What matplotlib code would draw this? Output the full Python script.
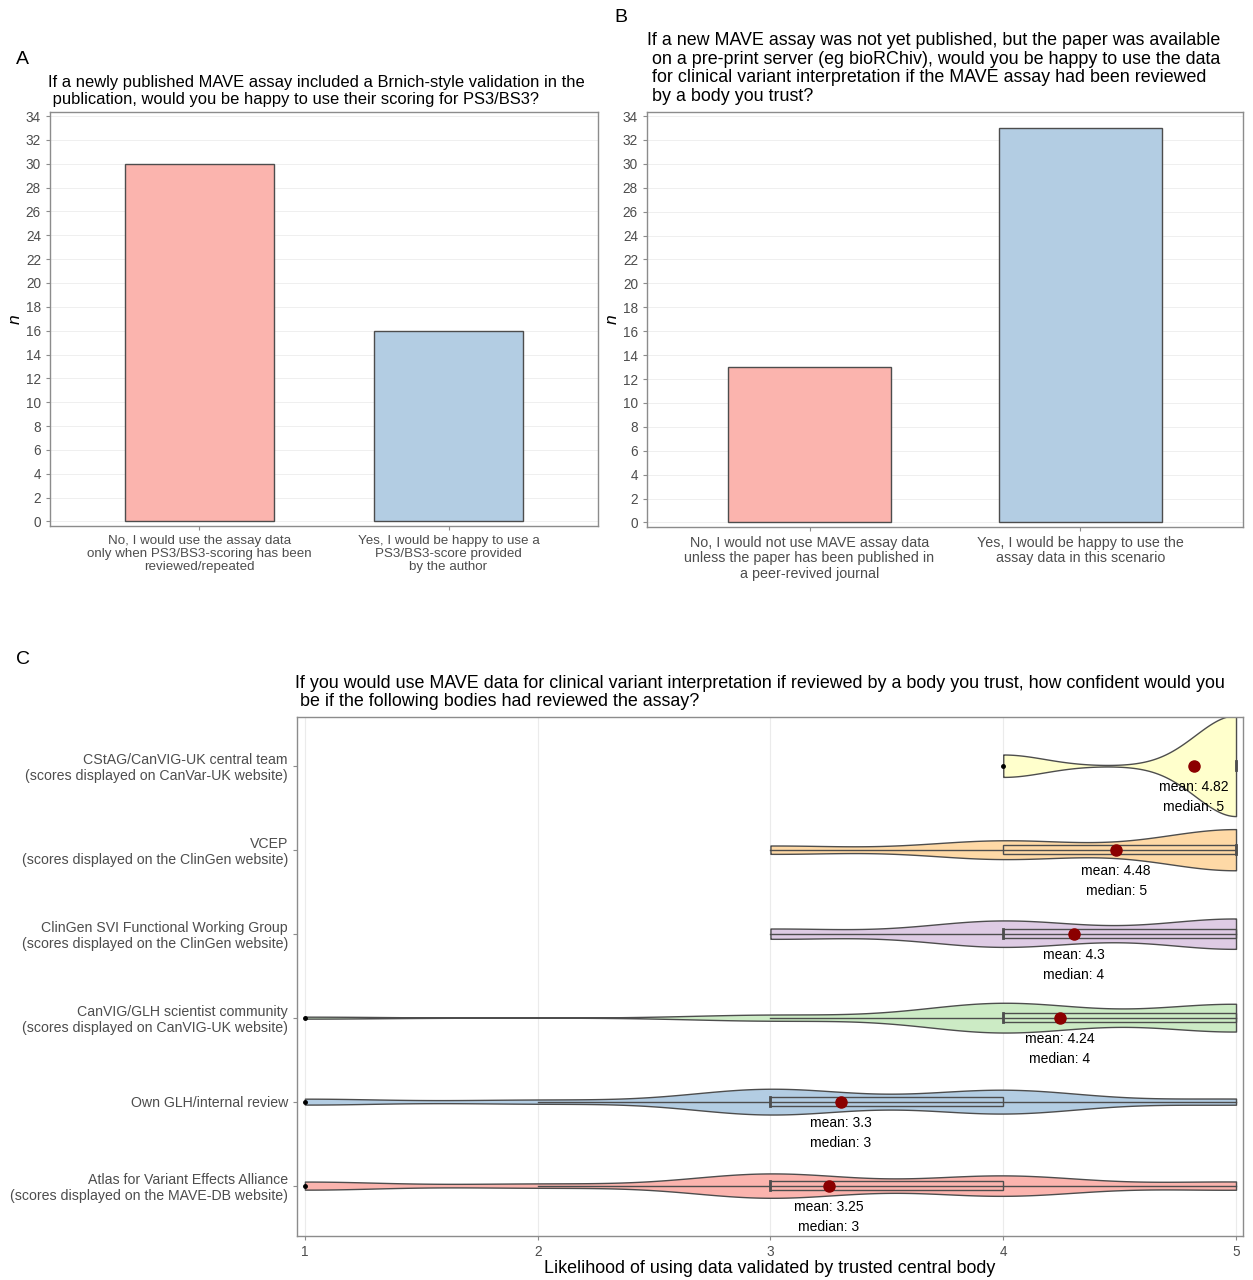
import numpy as np
import matplotlib
matplotlib.use("Agg")
import matplotlib.pyplot as plt

plt.rcParams['font.family'] = ['Liberation Sans', 'DejaVu Sans']

# ---------------- data ----------------
a_title = ("If a newly published MAVE assay included a Brnich-style validation in the\n"
           " publication, would you be happy to use their scoring for PS3/BS3?")
a_labels = ["No, I would use the assay data\nonly when PS3/BS3-scoring has been\nreviewed/repeated",
            "Yes, I would be happy to use a\nPS3/BS3-score provided\nby the author"]
a_values = [30, 16]

b_title = ("If a new MAVE assay was not yet published, but the paper was available\n"
           " on a pre-print server (eg bioRChiv), would you be happy to use the data\n"
           " for clinical variant interpretation if the MAVE assay had been reviewed\n"
           " by a body you trust?")
b_labels = ["No, I would not use MAVE assay data\nunless the paper has been published in\na peer-revived journal",
            "Yes, I would be happy to use the\nassay data in this scenario"]
b_values = [13, 33]

bar_colors = ["#FBB4AE", "#B3CDE3"]

c_title = ("If you would use MAVE data for clinical variant interpretation if reviewed by a body you trust, how confident would you\n"
           " be if the following bodies had reviewed the assay?")
c_xlabel = "Likelihood of using data validated by trusted central body"
ratings = [1, 2, 3, 4, 5]
# bottom to top
bodies = ["Atlas for Variant Effects Alliance\n(scores displayed on the MAVE-DB website)",
          "Own GLH/internal review",
          "CanVIG/GLH scientist community\n(scores displayed on CanVIG-UK website)",
          "ClinGen SVI Functional Working Group\n(scores displayed on the ClinGen website)",
          "VCEP\n(scores displayed on the ClinGen website)",
          "CStAG/CanVIG-UK central team\n(scores displayed on CanVar-UK website)"]
counts_atlas = [4, 2, 12, 10, 4]
counts_own = [3, 2, 13, 12, 3]
counts_canvig = [1, 0, 3, 15, 14]
counts_svi = [0, 0, 5, 13, 15]
counts_vcep = [0, 0, 4, 9, 20]
counts_cstag = [0, 0, 0, 6, 27]
body_counts = [counts_atlas, counts_own, counts_canvig, counts_svi, counts_vcep, counts_cstag]
violin_colors = ["#FBB4AE", "#B3CDE3", "#CCEBC5", "#DECBE4", "#FED9A6", "#FFFFCC"]

# ---------------- figure ----------------
W, H = 1253, 1280
fig = plt.figure(figsize=(W / 100, H / 100), dpi=100)

def fx(px):
    return px / W

def fy(py):
    return 1 - py / H

tick_gray = "#4D4D4D"
spine_gray = "#8C8C8C"
edge = "#4D4D4D"

def style_axes(ax):
    for s in ax.spines.values():
        s.set_color(spine_gray)
        s.set_linewidth(1.0)
    ax.tick_params(colors=spine_gray, labelcolor=tick_gray, length=3, width=0.8)

def bar_panel(rect, labels, values, title, letter, letter_pos, title_pos, title_size, xtick_size, ls):
    ax = fig.add_axes(rect)
    x = np.arange(1, len(values) + 1)
    ax.bar(x, values, width=0.6, color=bar_colors, edgecolor=edge, linewidth=1.0, zorder=3)
    ax.set_xlim(0.4, len(values) + 0.6)
    ax.set_ylim(-0.38, 34.34)
    ax.set_yticks(np.arange(0, 35, 2))
    ax.set_xticks(x)
    ax.set_xticklabels(labels, fontsize=xtick_size, linespacing=1.12)
    ax.tick_params(axis='y', labelsize=9.8)
    ax.yaxis.grid(True, color="#EFEFEF", linewidth=0.7, zorder=0)
    ax.set_axisbelow(True)
    ax.set_ylabel("n", fontsize=12.5, style='italic', labelpad=2)
    style_axes(ax)
    fig.text(fx(letter_pos[0]), fy(letter_pos[1]), letter, fontsize=14, ha='left', va='center')
    fig.text(fx(title_pos[0]), fy(title_pos[1]), title, fontsize=title_size, ha='left', va='center',
             linespacing=ls)
    return ax

bar_panel([fx(50), fy(526), fx(598) - fx(50), fy(112) - fy(526)], a_labels, a_values,
          a_title, "A", (16, 60), (48, 91), 11.9, 9.6, 1.2)
bar_panel([fx(647), fy(527), fx(1243) - fx(647), fy(112) - fy(527)], b_labels, b_values,
          b_title, "B", (614, 18), (647, 68.5), 12.9, 10.3, 1.13)

# ---------------- panel C ----------------
axc = fig.add_axes([fx(297), fy(1236), fx(1243) - fx(297), fy(717) - fy(1236)])

def bw_nrd0(x):
    hi = np.std(x, ddof=1)
    q1, q3 = np.percentile(x, [25, 75])
    lo = min(hi, (q3 - q1) / 1.34)
    if lo == 0:
        lo = hi if hi > 0 else (abs(x[0]) if x[0] != 0 else 1.0)
    return 0.9 * lo * len(x) ** -0.2

def kde(x, grid, bw):
    z = (grid[:, None] - x[None, :]) / bw
    return np.exp(-0.5 * z ** 2).sum(axis=1) / (len(x) * bw * np.sqrt(2 * np.pi))

data = [np.repeat(ratings, c).astype(float) for c in body_counts]
dens_list = []
for d in data:
    g = np.linspace(d.min(), d.max(), 512)
    dens_list.append((g, kde(d, g, bw_nrd0(d))))
gmax = max(dd.max() for _, dd in dens_list)
half_max = 0.6
box_half = 0.055

for i, (d, (g, dd), col) in enumerate(zip(data, dens_list, violin_colors)):
    y = i + 1
    hw = dd / gmax * half_max
    axc.fill_between(g, y - hw, y + hw, facecolor=col, edgecolor=edge, linewidth=1.0, zorder=2)
    q1, med, q3 = np.percentile(d, [25, 50, 75])
    iqr = q3 - q1
    lo_w = d[d >= q1 - 1.5 * iqr].min()
    hi_w = d[d <= q3 + 1.5 * iqr].max()
    axc.plot([lo_w, hi_w], [y, y], color=edge, linewidth=1.0, zorder=3)
    axc.add_patch(plt.Rectangle((q1, y - box_half), q3 - q1, 2 * box_half, facecolor='none',
                                edgecolor=edge, linewidth=1.0, zorder=4))
    axc.plot([med, med], [y - box_half, y + box_half], color=edge, linewidth=2.0, zorder=4)
    outl = np.unique(d[(d < lo_w) | (d > hi_w)])
    if len(outl):
        axc.plot(outl, np.full(len(outl), y), 'o', color='black', markersize=2.5, zorder=5)
    m = d.mean()
    axc.plot([m], [y], 'o', color='#8B0000', markersize=8, zorder=6)
    axc.text(m, y - 0.25, f"mean: {round(m, 2):g}", ha='center', va='center', fontsize=10, zorder=7)
    axc.text(m, y - 0.49, f"median: {med:g}", ha='center', va='center', fontsize=10, zorder=7)

axc.set_xlim(0.966, 5.03)
axc.set_ylim(0.4, 6.58)
axc.set_xticks(ratings)
axc.set_yticks(np.arange(1, len(bodies) + 1))
axc.set_yticklabels(bodies, fontsize=10.2, linespacing=1.15)
axc.tick_params(axis='x', labelsize=9.8)
axc.xaxis.grid(True, color="#EBEBEB", linewidth=0.8, zorder=0)
axc.set_axisbelow(True)
axc.set_xlabel(c_xlabel, fontsize=12.9, labelpad=1)
style_axes(axc)
fig.text(fx(16), fy(660), "C", fontsize=14, ha='left', va='center')
fig.text(fx(295), fy(692.5), c_title, fontsize=12.9, ha='left', va='center', linespacing=1.15)

fig.savefig("out.png", dpi=100, facecolor='white')
